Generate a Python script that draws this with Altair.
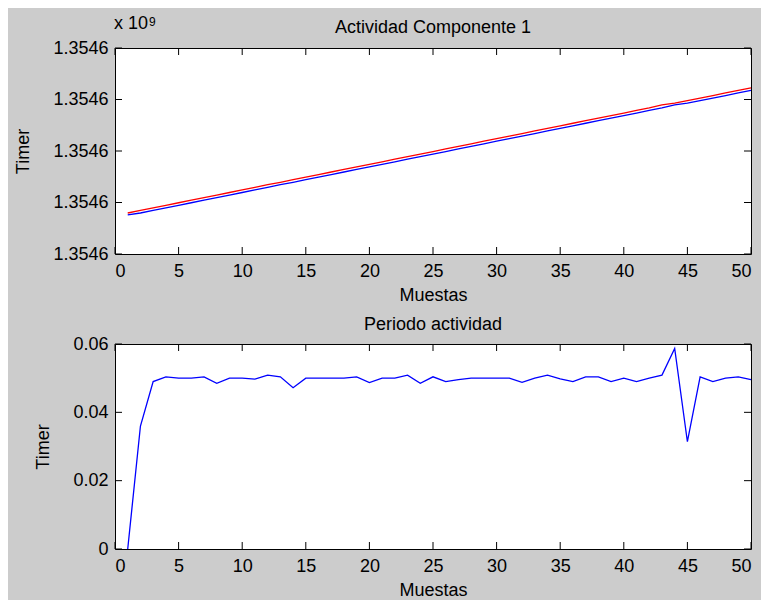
import altair as alt
import pandas as pd

# ---------------- data ----------------
samples = list(range(1, 51))

# Timer offsets (seconds above 1.3546e9 base tick)
start_timer = [0.760, 0.796, 0.845, 0.895, 0.945, 0.995, 1.046, 1.094, 1.144, 1.194,
               1.244, 1.295, 1.345, 1.392, 1.442, 1.492, 1.542, 1.592, 1.643, 1.691,
               1.741, 1.791, 1.842, 1.891, 1.941, 1.990, 2.040, 2.090, 2.140, 2.190,
               2.240, 2.289, 2.339, 2.390, 2.439, 2.488, 2.539, 2.589, 2.638, 2.688,
               2.737, 2.787, 2.838, 2.897, 2.928, 2.978, 3.027, 3.077, 3.128, 3.177]
end_timer = [0.796, 0.845, 0.895, 0.945, 0.995, 1.046, 1.094, 1.144, 1.194, 1.244,
             1.295, 1.345, 1.392, 1.442, 1.492, 1.542, 1.592, 1.643, 1.691, 1.741,
             1.791, 1.842, 1.891, 1.941, 1.990, 2.040, 2.090, 2.140, 2.190, 2.240,
             2.289, 2.339, 2.390, 2.439, 2.488, 2.539, 2.589, 2.638, 2.688, 2.737,
             2.787, 2.838, 2.897, 2.928, 2.978, 3.027, 3.077, 3.128, 3.177, 3.227]

period = [0.0, 0.036, 0.049, 0.0504, 0.050, 0.050, 0.0504, 0.0485, 0.050, 0.050,
          0.0497, 0.0509, 0.0504, 0.0472, 0.050, 0.050, 0.050, 0.050, 0.0504, 0.0487,
          0.050, 0.050, 0.0509, 0.0485, 0.0504, 0.049, 0.0496, 0.050, 0.050, 0.050,
          0.050, 0.0488, 0.050, 0.0509, 0.0498, 0.049, 0.0504, 0.0504, 0.049, 0.050,
          0.049, 0.050, 0.0509, 0.0587, 0.0314, 0.0504, 0.049, 0.050, 0.0504, 0.0496]

x_ticks = [0, 5, 10, 15, 20, 25, 30, 35, 40, 45, 50]
top_y_ticks = [0, 1, 2, 3, 4]
top_y_label = "1.3546"
bottom_y_ticks = [0, 0.02, 0.04, 0.06]

titles = ["Actividad Componente 1", "Periodo actividad"]
x_title = "Muestas"
y_title = "Timer"
exp_base = "x 10"
exp_power = "9"

# ---------------- layout constants ----------------
W = 636
H1 = 206
H2 = 205
TICK = 7
FONT = "Liberation Sans"
FS = 18

xscale = alt.Scale(domain=[0, 50], nice=False, zero=False)


def xenc():
    return alt.X("Muestra:Q", scale=xscale,
                 axis=alt.Axis(values=x_ticks, format="d", title=x_title,
                               labelPadding=8, titlePadding=6))


def yenc(domain, ticks, label_expr=None, fmt=None):
    kw = dict(values=ticks, title=y_title, labelPadding=7, titlePadding=20)
    if label_expr is not None:
        kw["labelExpr"] = label_expr
    if fmt is not None:
        kw["format"] = fmt
    return alt.Y("Valor:Q", scale=alt.Scale(domain=domain, nice=False, zero=False),
                 axis=alt.Axis(**kw))


def tick_layers(domain, yticks, h, label_expr=None, fmt=None):
    xt = pd.DataFrame({"Muestra": x_ticks})
    yt = pd.DataFrame({"Valor": yticks})
    ye = yenc(domain, yticks, label_expr, fmt)
    bottom = alt.Chart(xt).mark_rule(color="black", strokeWidth=1).encode(
        x=xenc(), y=alt.value(h - TICK), y2=alt.value(h))
    top = alt.Chart(xt).mark_rule(color="black", strokeWidth=1).encode(
        x=xenc(), y=alt.value(0), y2=alt.value(TICK))
    left = alt.Chart(yt).mark_rule(color="black", strokeWidth=1).encode(
        y=ye, x=alt.value(0), x2=alt.value(TICK))
    right = alt.Chart(yt).mark_rule(color="black", strokeWidth=1).encode(
        y=ye, x=alt.value(W - TICK), x2=alt.value(W))
    return [bottom, top, left, right]


# ---------------- top panel ----------------
top_df = pd.DataFrame({
    "Muestra": samples * 2,
    "Valor": start_timer + end_timer,
    "Serie": ["inicio"] * len(samples) + ["fin"] * len(samples),
})
top_domain = [0, 4]
top_label_expr = "'" + top_y_label + "'"

top_lines = alt.Chart(top_df).mark_line(strokeWidth=1.3).encode(
    x=xenc(),
    y=yenc(top_domain, top_y_ticks, top_label_expr),
    color=alt.Color("Serie:N", scale=alt.Scale(domain=["inicio", "fin"],
                                               range=["#0000ff", "#ff0000"]),
                    legend=None),
    order=alt.Order("Serie:N", sort="descending"),
)

exp1 = alt.Chart(pd.DataFrame({"t": [exp_base]})).mark_text(
    align="left", baseline="alphabetic", font=FONT, fontSize=FS, color="black"
).encode(x=alt.value(-1), y=alt.value(-19), text="t:N")
exp2 = alt.Chart(pd.DataFrame({"t": [exp_power]})).mark_text(
    align="left", baseline="alphabetic", font=FONT, fontSize=12, color="black"
).encode(x=alt.value(34), y=alt.value(-22), text="t:N")

top_chart = alt.layer(
    top_lines, *tick_layers(top_domain, top_y_ticks, H1, top_label_expr), exp1, exp2
).properties(
    width=W, height=H1,
    title=alt.TitleParams(titles[0], font=FONT, fontSize=FS, fontWeight="normal",
                          color="black", anchor="middle", baseline="alphabetic",
                          offset=-36),
)

# ---------------- bottom panel ----------------
bot_df = pd.DataFrame({"Muestra": samples, "Valor": period})
bot_domain = [0, 0.06]

bot_line = alt.Chart(bot_df).mark_line(strokeWidth=1.3, color="#0000ff").encode(
    x=xenc(),
    y=yenc(bot_domain, bottom_y_ticks, None, "g"),
)

bot_chart = alt.layer(
    bot_line, *tick_layers(bot_domain, bottom_y_ticks, H2, None, "g")
).properties(
    width=W, height=H2,
    title=alt.TitleParams(titles[1], font=FONT, fontSize=FS, fontWeight="normal",
                          color="black", anchor="middle", baseline="alphabetic",
                          offset=-13),
)

chart = alt.vconcat(top_chart, bot_chart, spacing=10).properties(
    padding={"left": 6, "top": 6, "right": 6, "bottom": 4},
    background="#cccccc",
).configure_view(
    fill="white", stroke="black", strokeWidth=1
).configure_axis(
    labelFont=FONT, labelFontSize=FS, labelColor="black",
    titleFont=FONT, titleFontSize=FS, titleFontWeight="normal", titleColor="black",
    domain=False, ticks=False, grid=False,
)

chart.save("out.html", embed_options={"renderer": "svg", "actions": False})
